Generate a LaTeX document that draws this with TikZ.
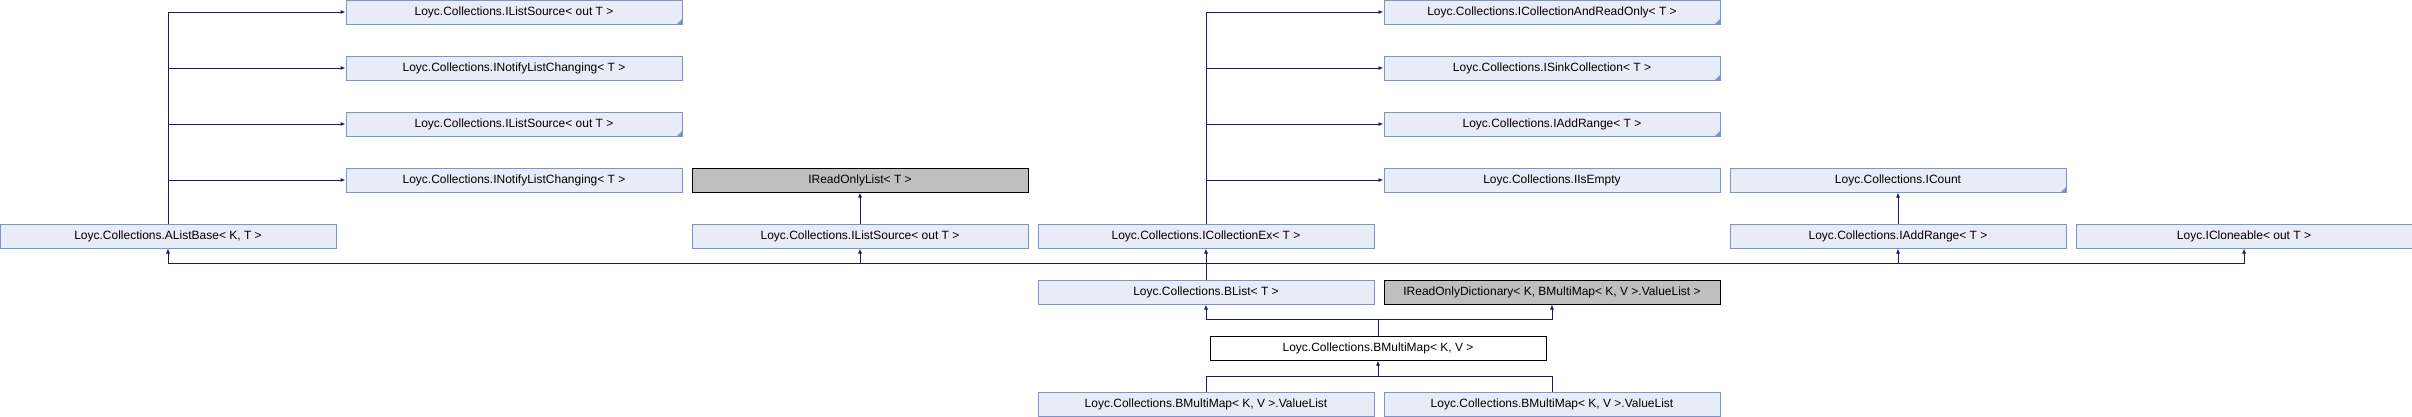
\documentclass[tikz,border=0pt]{standalone}
\usepackage{fontspec}
\setmainfont{Liberation Sans}
\usetikzlibrary{arrows.meta}
\definecolor{boxfill}{HTML}{E8ECF6}
\definecolor{boxline}{HTML}{7E93CB}
\definecolor{edgeblue}{HTML}{191970}
\definecolor{extfill}{HTML}{BFBFBF}
\tikzset{
  cls/.style={draw=boxline, fill=boxfill, line width=1pt, minimum width=336pt, minimum height=24pt, inner sep=0pt, font=\fontsize{12}{14}\selectfont},
  ext/.style={cls, draw=black, fill=extfill},
  cur/.style={cls, draw=black, fill=white},
  inh/.style={draw=edgeblue, line width=1pt, -{Latex[length=5pt,width=4pt]}},
  bus/.style={draw=edgeblue, line width=1pt},
}
\begin{document}
\begin{tikzpicture}[x=1pt, y=1pt]
  \useasboundingbox (0,0) rectangle (2412,-416);
  \node[cls] (ils1) at (514,-12) {Loyc.Collections.IListSource< out T >};
  \node[cls] (inlc1) at (514,-68) {Loyc.Collections.INotifyListChanging< T >};
  \node[cls] (ils2) at (514,-124) {Loyc.Collections.IListSource< out T >};
  \node[cls] (inlc2) at (514,-180) {Loyc.Collections.INotifyListChanging< T >};
  \node[cls] (alb) at (168,-236) {Loyc.Collections.AListBase< K, T >};
  \node[ext] (irol) at (860,-180) {IReadOnlyList< T >};
  \node[cls] (ilsb) at (860,-236) {Loyc.Collections.IListSource< out T >};
  \node[cls] (icar) at (1552,-12) {Loyc.Collections.ICollectionAndReadOnly< T >};
  \node[cls] (isink) at (1552,-68) {Loyc.Collections.ISinkCollection< T >};
  \node[cls] (iadd1) at (1552,-124) {Loyc.Collections.IAddRange< T >};
  \node[cls] (iempty) at (1552,-180) {Loyc.Collections.IIsEmpty};
  \node[cls] (icx) at (1206,-236) {Loyc.Collections.ICollectionEx< T >};
  \node[cls] (icount) at (1898,-180) {Loyc.Collections.ICount};
  \node[cls] (iadd2) at (1898,-236) {Loyc.Collections.IAddRange< T >};
  \node[cls] (iclone) at (2244,-236) {Loyc.ICloneable< out T >};
  \node[cls] (blist) at (1206,-292) {Loyc.Collections.BList< T >};
  \node[ext] (irod) at (1552,-292) {IReadOnlyDictionary< K, BMultiMap< K, V >.ValueList >};
  \node[cur] (bmm) at (1378,-348) {Loyc.Collections.BMultiMap< K, V >};
  \node[cls] (vl1) at (1206,-404) {Loyc.Collections.BMultiMap< K, V >.ValueList};
  \node[cls] (vl2) at (1552,-404) {Loyc.Collections.BMultiMap< K, V >.ValueList};
  \foreach \n in {ils1,ils2,icar,isink,iadd1,icount}
    \fill[boxline] (\n.south east) -- ++(-6,0) -- ++(6,6) -- cycle;
  \draw[inh] (alb.north) |- (ils1.west);
  \draw[inh] (alb.north) |- (inlc1.west);
  \draw[inh] (alb.north) |- (ils2.west);
  \draw[inh] (alb.north) |- (inlc2.west);
  \draw[inh] (ilsb.north) -- (irol.south);
  \draw[inh] (icx.north) |- (icar.west);
  \draw[inh] (icx.north) |- (isink.west);
  \draw[inh] (icx.north) |- (iadd1.west);
  \draw[inh] (icx.north) |- (iempty.west);
  \draw[inh] (iadd2.north) -- (icount.south);
  \coordinate (bus) at ([yshift=16]blist.north);
  \draw[inh] (blist.north) -- (icx.south);
  \draw[inh] (bus) -| (alb.south);
  \draw[inh] (bus) -| (ilsb.south);
  \draw[inh] (bus) -| (iadd2.south);
  \draw[inh] (bus) -| (iclone.south);
  \coordinate (bmup) at ([yshift=16]bmm.north);
  \draw[bus] (bmm.north) -- (bmup);
  \draw[inh] (bmup) -| (blist.south);
  \draw[inh] (bmup) -| (irod.south);
  \coordinate (vlup) at ([yshift=-16]bmm.south);
  \draw[inh] (vlup) -- (bmm.south);
  \draw[bus] (vl1.north) |- (vlup);
  \draw[bus] (vl2.north) |- (vlup);
\end{tikzpicture}
\end{document}
